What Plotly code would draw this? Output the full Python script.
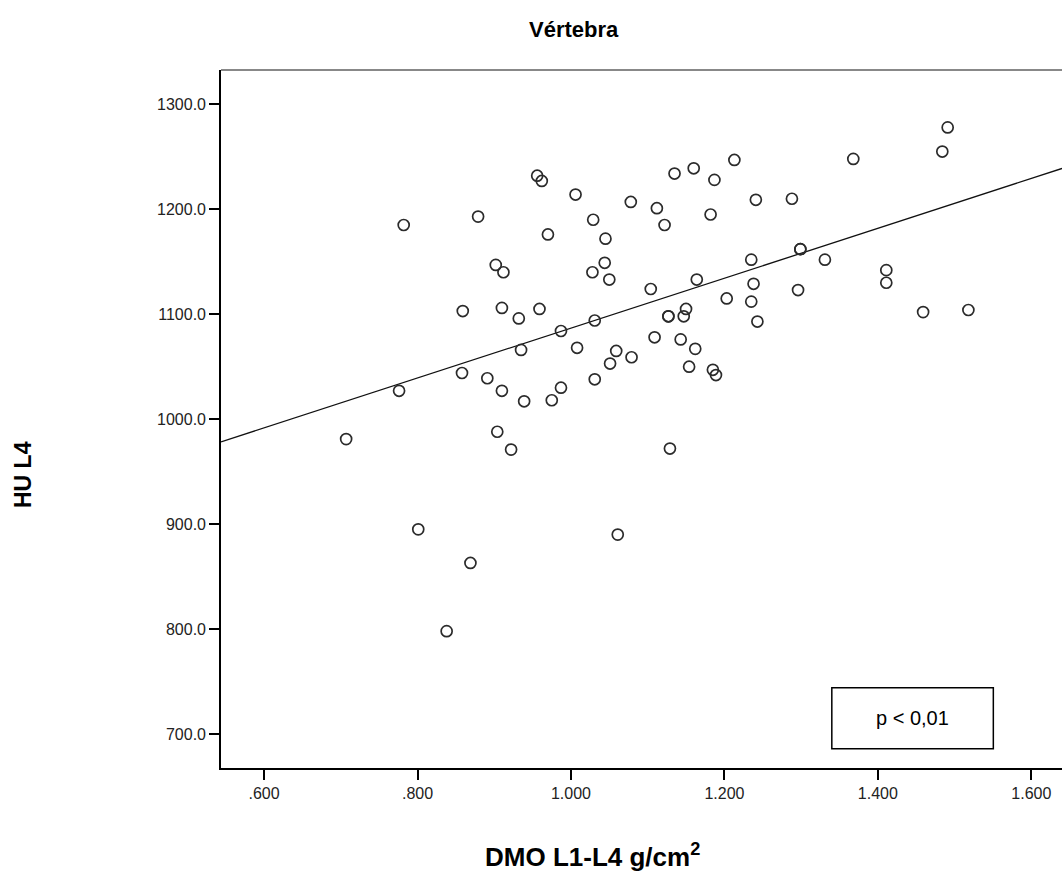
import numpy as np
import plotly.graph_objects as go

# DMO L1-L4 (g/cm2) values
dmo = [0.707, 0.776, 0.782, 0.801, 0.838, 0.858, 0.859, 0.869, 0.879, 0.891,
       0.902, 0.904, 0.910, 0.910, 0.912, 0.922, 0.932, 0.935, 0.939, 0.956,
       0.962, 0.970, 0.959, 0.975, 0.987, 0.987, 1.006, 1.008, 1.029, 1.028,
       1.031, 1.031, 1.045, 1.044, 1.050, 1.051, 1.059, 1.061, 1.079, 1.078,
       1.104, 1.109, 1.112, 1.122, 1.127, 1.127, 1.129, 1.135, 1.143, 1.147,
       1.150, 1.154, 1.160, 1.162, 1.164, 1.182, 1.185, 1.187, 1.189, 1.203,
       1.213, 1.235, 1.235, 1.238, 1.241, 1.243, 1.288, 1.296, 1.299, 1.299,
       1.331, 1.368, 1.411, 1.411, 1.459, 1.484, 1.491, 1.518]
# HU L4 values
hu = [981, 1027, 1185, 895, 798, 1044, 1103, 863, 1193, 1039,
      1147, 988, 1106, 1027, 1140, 971, 1096, 1066, 1017, 1232,
      1227, 1176, 1105, 1018, 1084, 1030, 1214, 1068, 1190, 1140,
      1094, 1038, 1172, 1149, 1133, 1053, 1065, 890, 1059, 1207,
      1124, 1078, 1201, 1185, 1098, 1098, 972, 1234, 1076, 1098,
      1105, 1050, 1239, 1067, 1133, 1195, 1047, 1228, 1042, 1115,
      1247, 1152, 1112, 1129, 1209, 1093, 1210, 1123, 1162, 1162,
      1152, 1248, 1142, 1130, 1102, 1255, 1278, 1104]

x_ticks = [0.6, 0.8, 1.0, 1.2, 1.4, 1.6]
x_ticklabels = [".600", ".800", "1.000", "1.200", "1.400", "1.600"]
y_ticks = [700, 800, 900, 1000, 1100, 1200, 1300]
y_ticklabels = ["700.0", "800.0", "900.0", "1000.0", "1100.0", "1200.0", "1300.0"]

title_text = "<b>Vértebra</b>"
x_title = "<b>DMO L1-L4 g/cm<sup>2</sup></b>"
y_title = "<b>HU L4</b>"
p_text = "p < 0,01"

X_RANGE = [0.5439, 1.640]
Y_RANGE = [667.6, 1332.7]

# Fit line
slope, intercept = np.polyfit(dmo, hu, 1)
line_x = np.array(X_RANGE)
line_y = intercept + slope * line_x

FONT = "Arial, Liberation Sans, sans-serif"

fig = go.Figure()
fig.add_trace(go.Scatter(x=line_x, y=line_y, mode="lines",
                         line=dict(color="#111111", width=1.3),
                         hoverinfo="skip", showlegend=False))
fig.add_trace(go.Scatter(x=dmo, y=hu, mode="markers",
                         marker=dict(symbol="circle-open", size=11,
                                     color="#2b2b2b", line=dict(width=1.7)),
                         showlegend=False))

W, H = 1062, 874
L, R, T, B = 221, 0, 70, 106
pw, ph = W - L - R, H - T - B

def px_x(px):
    return (px - L) / pw

def px_y(py):
    return (H - B - py) / ph

fig.update_layout(
    width=W, height=H,
    margin=dict(l=L, r=R, t=T, b=B),
    paper_bgcolor="white", plot_bgcolor="white",
    font=dict(family=FONT, color="#000000"),
    xaxis=dict(range=X_RANGE, tickvals=x_ticks, ticktext=x_ticklabels,
               showgrid=False, zeroline=False, showline=True,
               linecolor="#000000", linewidth=1.6, ticks="outside",
               ticklen=10, tickwidth=1.6, tickcolor="#000000",
               tickfont=dict(size=16, family=FONT, color="#222222")),
    yaxis=dict(range=Y_RANGE, tickvals=y_ticks, ticktext=y_ticklabels,
               showgrid=False, zeroline=False, showline=True,
               linecolor="#000000", linewidth=1.6, ticks="outside",
               ticklen=10, tickwidth=1.6, tickcolor="#000000",
               tickfont=dict(size=16, family=FONT, color="#222222")),
    shapes=[
        dict(type="line", xref="paper", yref="paper", x0=0, x1=1, y0=1, y1=1,
             line=dict(color="#888888", width=2)),
        dict(type="rect", xref="x", yref="y", x0=1.340, x1=1.5505,
             y0=686.0, y1=744.1, line=dict(color="#000000", width=1.5),
             fillcolor="white"),
    ],
    annotations=[
        dict(text=title_text, xref="paper", yref="paper",
             x=px_x(574), y=px_y(30), xanchor="center", yanchor="middle",
             showarrow=False,
             font=dict(size=22, family=FONT, color="#000000")),
        dict(text=x_title, xref="paper", yref="paper",
             x=px_x(592), y=px_y(855), xanchor="center", yanchor="middle",
             showarrow=False,
             font=dict(size=26, family=FONT, color="#000000")),
        dict(text=y_title, xref="paper", yref="paper", textangle=-90,
             x=px_x(23), y=px_y(475), xanchor="center", yanchor="middle",
             showarrow=False,
             font=dict(size=23, family=FONT, color="#000000")),
        dict(text=p_text, xref="x", yref="y", x=1.445, y=715,
             xanchor="center", yanchor="middle", showarrow=False,
             font=dict(size=20, family=FONT, color="#000000")),
    ],
)

fig.write_html(
    "out.html",
    config={"displayModeBar": False},
    post_script="document.body.style.margin='0';document.body.style.overflow='hidden';",
)
